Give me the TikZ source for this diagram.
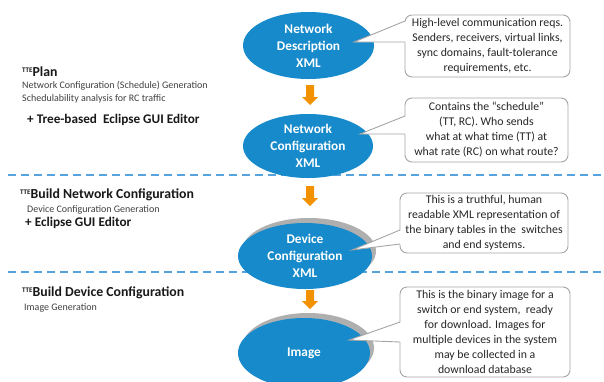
\documentclass[tikz,border=0pt]{standalone}
\usepackage{fontspec}
\setmainfont{Carlito}
\usetikzlibrary{calc}
\definecolor{ellblue}{RGB}{22,138,202}
\definecolor{arrorange}{RGB}{243,146,0}
\definecolor{dashblue}{RGB}{86,163,222}
\definecolor{callgray}{RGB}{165,165,165}
\definecolor{shadgray}{RGB}{175,175,175}
\definecolor{txtgray}{RGB}{64,64,64}
\newcommand{\tte}{{\fontsize{7}{7}\selectfont\raisebox{4.5pt}{TTE}}}
\tikzset{
  ell/.style={ellipse, fill=ellblue, text=white, inner sep=0pt, align=center,
    font=\fontsize{13.3}{17}\selectfont\bfseries},
  shad/.style={ellipse, fill=shadgray, inner sep=0pt},
  callout/.style={draw=callgray, line width=0.9pt, fill=white, rounded corners=7pt,
    align=center, inner sep=0pt, font=\fontsize{11.8}{15}\selectfont, text=black!85},
  ptr/.style={draw=callgray, line width=0.9pt, line join=miter},
  blockarrow/.style={fill=arrorange},
  sep/.style={draw=dashblue, line width=1.6pt, dash pattern=on 8pt off 5pt},
  head/.style={anchor=west, inner sep=0pt, font=\fontsize{13.8}{15}\selectfont\bfseries, text=black!90},
  sub/.style={anchor=west, inner sep=0pt, font=\fontsize{10}{11}\selectfont, text=txtgray},
  plus/.style={anchor=west, inner sep=0pt, font=\fontsize{13.2}{15}\selectfont\bfseries, text=black!90},
}
\usetikzlibrary{shapes.geometric}
\begin{document}
\begin{tikzpicture}[x=1pt,y=-1pt]
\useasboundingbox (0,0) rectangle (604,381);
\clip (0,0) rectangle (604,381);
\fill[white] (0,0) rectangle (604,381);

% separators
\coordinate (s1a) at (8,175); \coordinate (s1b) at (604,175);
\coordinate (s2a) at (8,272); \coordinate (s2b) at (604,272);
\draw[sep] (s1a) -- (s1b);
\draw[sep] (s2a) -- (s2b);

% ellipses
\node[ell, minimum width=131pt, minimum height=67pt] (e1) at (308.5,45.5) {Network\\Description\\XML};
\node[ell, minimum width=130pt, minimum height=64pt] (e2) at (308,146) {Network\\Configuration\\XML};
\node[shad, minimum width=134pt, minimum height=66pt] (e3s) at (309,251) {};
\node[ell, minimum width=134pt, minimum height=66pt] (e3) at (305,256) {Device\\Configuration\\XML};
\node[shad, minimum width=132pt, minimum height=70pt] (e4s) at (308,348) {};
\node[ell, minimum width=132pt, minimum height=70pt] (e4) at (304,353) {Image};

% orange block arrows
\fill[blockarrow] (306,85) -- (314,85) -- (314,97) -- (318,97) -- (310,105) -- (302,97) -- (306,97) -- cycle;
\fill[blockarrow] (306,186) -- (314,186) -- (314,198) -- (318,198) -- (310,206) -- (302,198) -- (306,198) -- cycle;
\fill[blockarrow] (306,290) -- (314,290) -- (314,301) -- (318,301) -- (310,309) -- (302,301) -- (306,301) -- cycle;

% callouts
\node[callout, minimum width=165pt, minimum height=62pt] (c1) at (487.5,46)
  {High-level communication reqs.\\Senders, receivers, virtual links,\\sync domains, fault-tolerance\\requirements, etc.};
\node[callout, minimum width=163pt, minimum height=64pt] (c2) at (486.5,130)
  {Contains the “schedule”\\(TT, RC). Who sends\\what at what time (TT) at\\what rate (RC) on what route?};
\node[callout, minimum width=168pt, minimum height=60pt] (c3) at (484,223)
  {This is a truthful, human\\readable XML representation of\\the binary tables in the~ switches\\and end systems.};
\node[callout, minimum width=170pt, minimum height=90pt] (c4) at (485,332)
  {This is the binary image for a\\switch or end system,~ ready\\for download. Images for\\multiple devices in the system\\may be collected in a\\download database};

% pointers
\coordinate (t1) at (354,42); \coordinate (a1) at (405,21); \coordinate (b1) at (405,42);
\coordinate (t2) at (360,134); \coordinate (a2) at (405,116); \coordinate (b2) at (405,134);
\coordinate (t3) at (352,250); \coordinate (a3) at (400,230); \coordinate (b3) at (400,244);
\coordinate (t4) at (349,340); \coordinate (a4) at (400,322); \coordinate (b4) at (400,342);
\foreach \i in {1,2,3,4}{
  \fill[white] (t\i) -- ($(a\i)+(1.5,0)$) -- ($(b\i)+(1.5,0)$) -- cycle;
  \draw[ptr] (a\i) -- (t\i) -- (b\i);
}

% left texts
\node[head] (h1) at (22,72) {\tte Plan};
\node[sub] (h1a) at (22,86) {Network Configuration (Schedule) Generation};
\node[sub] (h1b) at (22,99) {Schedulability analysis for RC traffic};
\node[plus] (h1c) at (27,120) {+ Tree-based~ Eclipse GUI Editor};

\node[head] (h2) at (20,195) {\tte Build Network Configuration};
\node[sub] (h2a) at (27,210) {Device Configuration Generation};
\node[plus] (h2b) at (25,223) {+ Eclipse GUI Editor};

\node[head] (h3) at (22,293) {\tte Build Device Configuration};
\node[sub] (h3a) at (24,308) {Image Generation};
\end{tikzpicture}
\end{document}
